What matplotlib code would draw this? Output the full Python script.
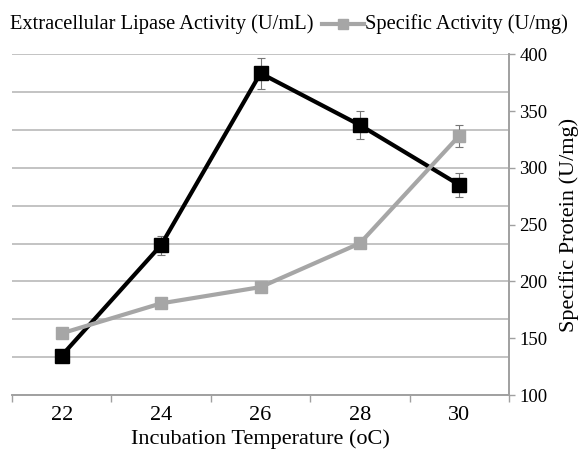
import matplotlib
matplotlib.use('Agg')
import matplotlib.pyplot as plt
from matplotlib.lines import Line2D
import numpy as np

plt.rcParams['font.family'] = ['Liberation Serif', 'DejaVu Serif']

temps = ['22', '24', '26', '28', '30']
lipase = [10.4, 39.6, 85.0, 71.3, 55.5]
lipase_err = [1.0, 2.5, 4.1, 3.7, 3.1]
spec_act = [154.3, 180.7, 195.0, 233.6, 328.3]
spec_err = [3.0, 3.0, 3.0, 4.0, 9.7]

grey = '#A6A6A6'
axis_grey = '#A0A0A0'

fig = plt.figure(figsize=(5.81, 4.5), dpi=100)
ax = fig.add_axes([12 / 581, 1 - 395 / 450, (509 - 12) / 581, (395 - 54.3) / 450])
ax2 = ax.twinx()

x = np.arange(len(temps))

# left axis (its labels are cut off in the original)
ax.set_ylim(0, 90)
ax.set_yticks(np.arange(0, 91, 10))
ax.tick_params(axis='y', left=False, labelleft=False)
ax.grid(axis='y', color='#BEBEBE', linewidth=1.3)
ax.set_axisbelow(True)

ax.errorbar(x, lipase, yerr=lipase_err, color='black', lw=3, marker='s', ms=9.5,
            ecolor='#777777', elinewidth=0.8, capsize=3, capthick=0.8, zorder=3)

ax2.errorbar(x, spec_act, yerr=spec_err, color=grey, lw=3, marker='s', ms=9,
             ecolor='#777777', elinewidth=0.8, capsize=3, capthick=0.8, zorder=2)
ax2.set_ylim(100, 400)
ax2.set_yticks(range(100, 401, 50))
ax2.tick_params(axis='y', direction='out', length=4.5, width=1, color=axis_grey,
                labelsize=13.5, pad=3)
ax2.set_ylabel('Specific Protein (U/mg)', fontsize=16, labelpad=8)

ax.set_xlim(-0.5, len(temps) - 0.5)
ax.set_xticks(x)
ax.set_xticklabels(temps, fontsize=16)
ax.set_xticks(np.arange(-0.5, len(temps), 1), minor=True)
ax.tick_params(axis='x', which='major', length=0, pad=8)
ax.tick_params(axis='x', which='minor', length=5, width=1, color=axis_grey)
ax.set_xlabel('Incubation Temperature (oC)', fontsize=16, labelpad=3)

for a in (ax, ax2):
    a.spines['top'].set_visible(False)
    a.spines['left'].set_visible(False)
    a.spines['right'].set_color(axis_grey)
    a.spines['bottom'].set_color(axis_grey)
    a.spines['right'].set_linewidth(1.2)
    a.spines['bottom'].set_linewidth(1.2)

# legend (the black entry's handle is cut off in the original)
ly = 1 - 24 / 450
fig.text(10 / 581, ly, 'Extracellular Lipase Activity (U/mL)', fontsize=14.8, va='center')
fig.add_artist(Line2D([322 / 581, 364 / 581], [ly, ly], transform=fig.transFigure,
                      color=grey, lw=3))
fig.add_artist(Line2D([343 / 581], [ly], transform=fig.transFigure,
                      color=grey, marker='s', ms=6.5, lw=0))
fig.text(365 / 581, ly, 'Specific Activity (U/mg)', fontsize=14.8, va='center')

fig.savefig('out.png', dpi=100)
